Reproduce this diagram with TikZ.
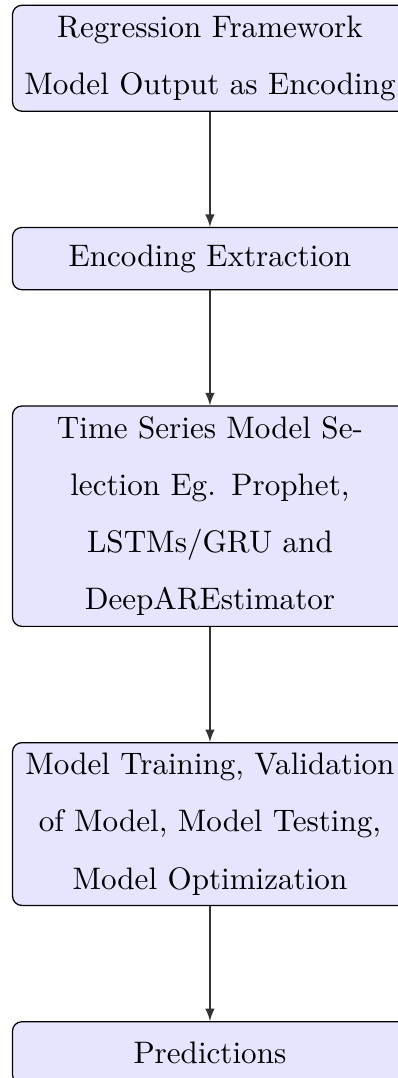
\documentclass[tikz,border=0pt]{standalone}
\usetikzlibrary{positioning}
\tikzset{
  stage/.style={draw=black, line width=0.4pt, fill=blue!10, rounded corners=3pt,
    text width=120.3pt, align=center, minimum height=20pt, inner sep=3.33pt,
    font=\fontsize{10}{18.4}\selectfont},
  flow/.style={draw=black!80, line width=0.4pt, -latex}
}
\begin{document}
\begin{tikzpicture}
\useasboundingbox (0,0) rectangle (127.65pt,-346.6pt);
\node[stage, anchor=north] (n1) at (67.5pt,-1.5pt) {Regression Framework\\Model Output as Encoding};
\node[stage, below=1.3cm of n1] (n2) {Encoding Extraction};
\node[stage, below=1.3cm of n2] (n3) {Time Series Model Se-\\lection Eg. Prophet,\\LSTMs/GRU and\\DeepAREstimator};
\node[stage, below=1.3cm of n3] (n4) {Model Training, Validation\\of Model, Model Testing,\\Model Optimization};
\node[stage, below=1.3cm of n4] (n5) {Predictions};
\draw[flow] (n1) -- (n2);
\draw[flow] (n2) -- (n3);
\draw[flow] (n3) -- (n4);
\draw[flow] (n4) -- (n5);
\end{tikzpicture}
\end{document}
